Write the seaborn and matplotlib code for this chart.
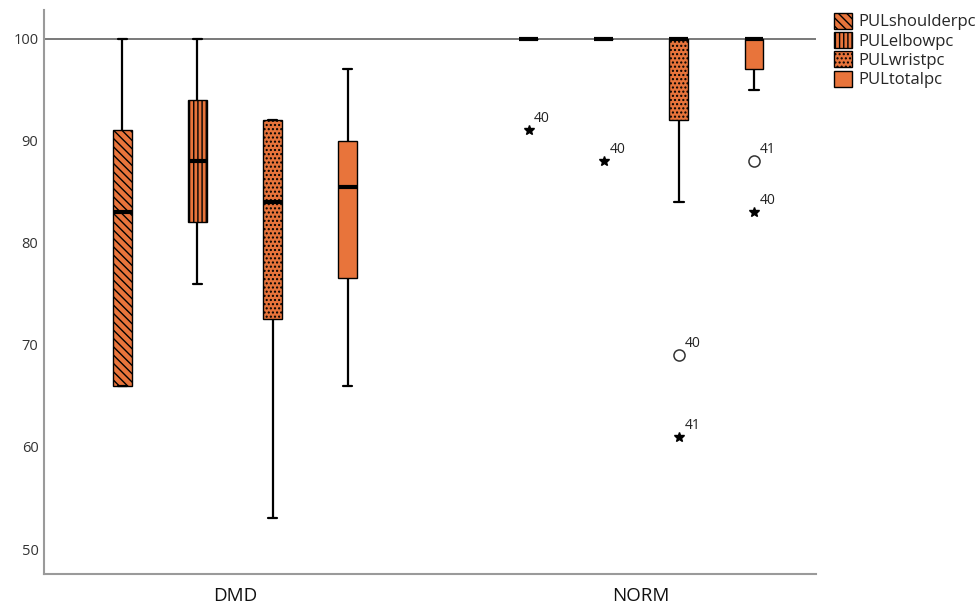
import numpy as np
import pandas as pd
import matplotlib
matplotlib.use("Agg")
import matplotlib.pyplot as plt
from matplotlib.patches import Patch
import seaborn as sns

# Five-number summaries per box: lower whisker, Q1, median, Q3, upper whisker
groups = ["DMD", "NORM"]
measures = ["PULshoulderpc", "PULelbowpc", "PULwristpc", "PULtotalpc"]

dmd_shoulder = [66, 66, 83, 91, 100]
dmd_elbow = [76, 82, 88, 94, 100]
dmd_wrist = [53, 72.5, 84, 92, 92]
dmd_total = [66, 76.5, 85.5, 90, 97]
norm_shoulder = [100, 100, 100, 100, 100]
norm_elbow = [100, 100, 100, 100, 100]
norm_wrist = [84, 92, 100, 100, 100]
norm_total = [95, 97, 100, 100, 100]

# Outlying cases: (group, measure, value, case id, kind)
outlier_group = ["NORM", "NORM", "NORM", "NORM", "NORM", "NORM"]
outlier_measure = ["PULshoulderpc", "PULelbowpc", "PULwristpc", "PULwristpc", "PULtotalpc", "PULtotalpc"]
outlier_value = [91, 88, 69, 61, 88, 83]
outlier_case = ["40", "40", "40", "41", "41", "40"]
outlier_kind = ["extreme", "extreme", "mild", "extreme", "mild", "extreme"]

summaries = {
    ("DMD", "PULshoulderpc"): dmd_shoulder,
    ("DMD", "PULelbowpc"): dmd_elbow,
    ("DMD", "PULwristpc"): dmd_wrist,
    ("DMD", "PULtotalpc"): dmd_total,
    ("NORM", "PULshoulderpc"): norm_shoulder,
    ("NORM", "PULelbowpc"): norm_elbow,
    ("NORM", "PULwristpc"): norm_wrist,
    ("NORM", "PULtotalpc"): norm_total,
}
rows = [(g, m, v) for (g, m), vals in summaries.items() for v in vals]
df = pd.DataFrame(rows, columns=["group", "measure", "value"])

orange = "#E8743B"
hatches = ["\\\\\\\\", "||||", "....", ""]

sns.set_style("white")
plt.rcParams["font.family"] = ["Open Sans", "DejaVu Sans"]
plt.rcParams["hatch.linewidth"] = 1.0

fig = plt.figure(figsize=(9.79, 6.05), dpi=100)
ax = fig.add_axes([0.045, 0.0512, 0.7885, 0.9323])

BOX_WIDTH = 0.74
ax.axhline(100, color="#6e6e6e", lw=1.3, zorder=0)

sns.boxplot(
    data=df, x="group", y="value", hue="measure",
    order=groups, hue_order=measures,
    width=BOX_WIDTH, gap=0.75, whis=(0, 100), showfliers=False,
    color=orange, palette=[orange] * 4, legend=False, ax=ax,
    boxprops=dict(edgecolor="black", linewidth=1.0),
    whiskerprops=dict(color="black", linewidth=1.6),
    capprops=dict(color="black", linewidth=1.6),
    medianprops=dict(color="black", linewidth=3.0),
)

# Pattern fills, in left-to-right order of the boxes
boxes = sorted(ax.patches, key=lambda p: p.get_path().vertices[:, 0].mean())
for i, p in enumerate(boxes):
    p.set_facecolor(orange)
    p.set_edgecolor("black")
    p.set_hatch(hatches[i % 4])

# Outlying cases drawn at their dodged positions
slot = BOX_WIDTH / len(measures)
for g, m, v, c, k in zip(outlier_group, outlier_measure, outlier_value, outlier_case, outlier_kind):
    xpos = groups.index(g) + (measures.index(m) - (len(measures) - 1) / 2) * slot
    if k == "mild":
        ax.plot(xpos, v, marker="o", ms=8, mfc="white", mec="#333333", mew=1.1, ls="none")
    else:
        ax.plot(xpos, v, marker="*", ms=7, color="black", ls="none")
    ax.annotate(c, (xpos, v), xytext=(4, 3), textcoords="offset points",
                fontsize=10, color="#222222", ha="left", va="bottom")

ax.set_xlim(-0.47, 1.43)
ax.set_ylim(47.55, 102.8)
ax.set_yticks([50, 60, 70, 80, 90, 100])
ax.set_xlabel("")
ax.set_ylabel("")
ax.tick_params(axis="y", length=0, labelsize=10.5, labelcolor="#333333", pad=4)
ax.tick_params(axis="x", length=0, labelsize=13.5, labelcolor="#111111", pad=9)

for side in ["top", "right"]:
    ax.spines[side].set_visible(False)
for side in ["left", "bottom"]:
    ax.spines[side].set_color("#9a9a9a")
    ax.spines[side].set_linewidth(1.5)

handles = [Patch(facecolor=orange, edgecolor="black", hatch=h, label=m)
           for h, m in zip(hatches, measures)]
fig.legend(handles=handles, loc="upper left", bbox_to_anchor=(0.845, 0.99),
           frameon=False, fontsize=12, handlelength=1.1, handleheight=1.1,
           handletextpad=0.35, labelspacing=0.1, borderaxespad=0)

fig.savefig("out.png", dpi=100)
